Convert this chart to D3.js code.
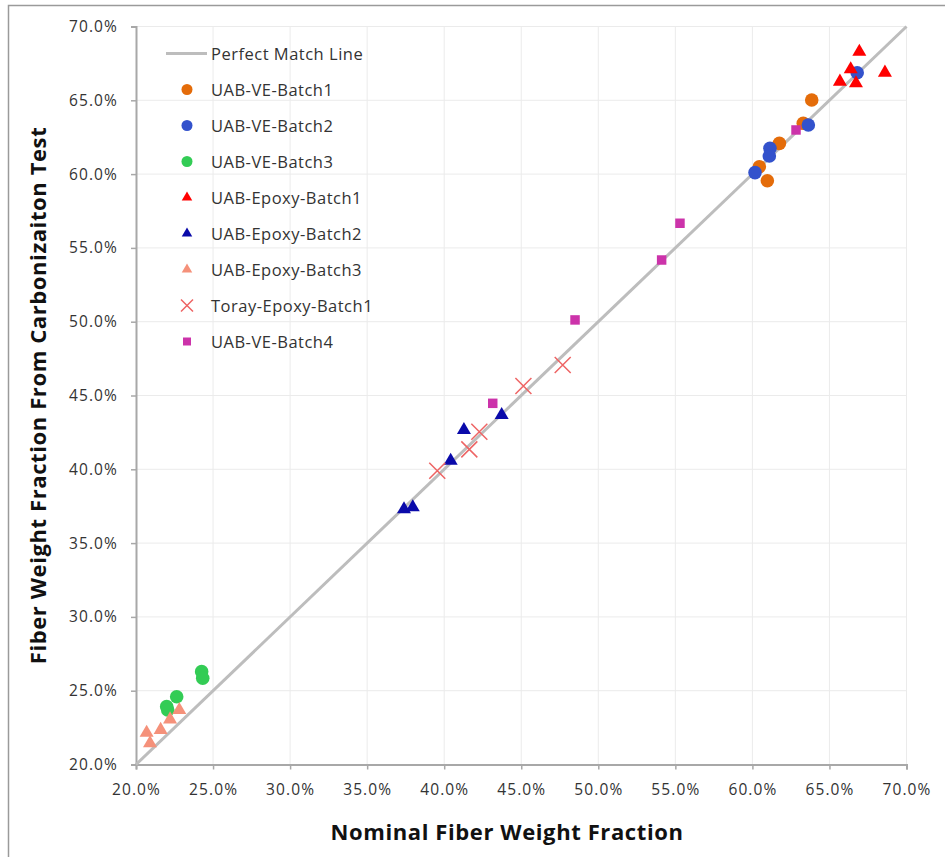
<!DOCTYPE html>
<html>
<head>
<meta charset="utf-8">
<script src="https://cdn.jsdelivr.net/npm/d3@7"></script>
<style>
  html, body { margin: 0; padding: 0; background: #fff; }
  svg { display: block; }
  text { font-family: "Open Sans", "Liberation Sans", sans-serif; }
</style>
</head>
<body>
<svg id="chart" width="945" height="857"></svg>
<script>
// ---- data (fractions) ----
const tickValues = [0.20, 0.25, 0.30, 0.35, 0.40, 0.45, 0.50, 0.55, 0.60, 0.65, 0.70];

const seriesNames = ["UAB-VE-Batch1", "UAB-VE-Batch2", "UAB-VE-Batch3", "UAB-Epoxy-Batch1",
  "UAB-Epoxy-Batch2", "UAB-Epoxy-Batch3", "Toray-Epoxy-Batch1", "UAB-VE-Batch4"];

const veBatch1X = [0.6385, 0.6330, 0.6175, 0.6045, 0.6097];
const veBatch1Y = [0.6502, 0.6344, 0.6208, 0.6050, 0.5955];

const veBatch2X = [0.6363, 0.6114, 0.6110, 0.6017, 0.6680];
const veBatch2Y = [0.6333, 0.6175, 0.6123, 0.6010, 0.6687];

const veBatch3X = [0.2426, 0.2433, 0.2264, 0.2199, 0.2206];
const veBatch3Y = [0.2629, 0.2584, 0.2459, 0.2392, 0.2369];

const epoxyBatch1X = [0.6694, 0.6638, 0.6568, 0.6672, 0.6860];
const epoxyBatch1Y = [0.6829, 0.6710, 0.6626, 0.6615, 0.6687];

const epoxyBatch2X = [0.4373, 0.4128, 0.4042, 0.3739, 0.3796];
const epoxyBatch2Y = [0.4368, 0.4266, 0.4058, 0.3729, 0.3743];

const epoxyBatch3X = [0.2281, 0.2221, 0.2160, 0.2069, 0.2091];
const epoxyBatch3Y = [0.2369, 0.2306, 0.2234, 0.2215, 0.2144];

const torayBatch1X = [0.4769, 0.4514, 0.4228, 0.4163, 0.3955];
const torayBatch1Y = [0.4707, 0.4564, 0.4255, 0.4135, 0.3990];

const veBatch4X = [0.6283, 0.5530, 0.5411, 0.4849, 0.4315];
const veBatch4Y = [0.6299, 0.5667, 0.5418, 0.5012, 0.4447];

const perfectLine = [0.20, 0.70];

// ---- styles ----
const styles = [
  { shape: "circle",   color: "#E46C0A" },
  { shape: "circle",   color: "#3352CC" },
  { shape: "circle",   color: "#33CC55" },
  { shape: "triangle", color: "#FF0000" },
  { shape: "triangle", color: "#0A0AAA" },
  { shape: "triangle", color: "#F5917A" },
  { shape: "cross",    color: "#EE6464" },
  { shape: "square",   color: "#CC33AA" }
];
const seriesX = [veBatch1X, veBatch2X, veBatch3X, epoxyBatch1X, epoxyBatch2X, epoxyBatch3X, torayBatch1X, veBatch4X];
const seriesY = [veBatch1Y, veBatch2Y, veBatch3Y, epoxyBatch1Y, epoxyBatch2Y, epoxyBatch3Y, torayBatch1Y, veBatch4Y];

const svg = d3.select("#chart");
const x = d3.scaleLinear().domain([0.20, 0.70]).range([136, 906.5]);
const y = d3.scaleLinear().domain([0.20, 0.70]).range([764.5, 26.5]);
const fmt = d3.format(".1%");

// outer border (extends off canvas right/bottom)
svg.append("rect").attr("x", 8.5).attr("y", 5.5).attr("width", 960).attr("height", 880)
  .attr("fill", "none").attr("stroke", "#9A9A9A").attr("stroke-width", 1.5);

// gridlines
const grid = svg.append("g");
grid.selectAll("line.v").data(tickValues.slice(1)).join("line")
  .attr("x1", d => x(d)).attr("x2", d => x(d)).attr("y1", y(0.70)).attr("y2", y(0.20))
  .attr("stroke", "#EBEBEB").attr("stroke-width", 1);
grid.selectAll("line.h").data(tickValues.slice(1)).join("line")
  .attr("x1", x(0.20)).attr("x2", x(0.70)).attr("y1", d => y(d)).attr("y2", d => y(d))
  .attr("stroke", "#EBEBEB").attr("stroke-width", 1);

// axes
const axisColor = "#A8A8A8";
const gx = svg.append("g").attr("transform", `translate(0,${y(0.20)})`)
  .call(d3.axisBottom(x).tickValues(tickValues).tickFormat(fmt).tickSize(5).tickPadding(14));
const gy = svg.append("g").attr("transform", `translate(${x(0.20)},0)`)
  .call(d3.axisLeft(y).tickValues(tickValues).tickFormat(fmt).tickSize(5).tickPadding(13));
[gx, gy].forEach(g => {
  g.select(".domain").attr("stroke", axisColor).attr("stroke-width", 2);
  g.selectAll(".tick line").attr("stroke", axisColor).attr("stroke-width", 1.5);
  g.selectAll(".tick text").attr("fill", "#333").style("font-size", "15.5px")
    .style("letter-spacing", "1.1px").style("font-family", "'Open Sans', sans-serif");
});

// axis titles
svg.append("text").attr("x", 507).attr("y", 840).attr("text-anchor", "middle")
  .style("font-size", "22px").style("font-weight", "bold").style("letter-spacing", "0.6px")
  .attr("fill", "#111")
  .text("Nominal Fiber Weight Fraction");
svg.append("text").attr("transform", `translate(46,${(y(0.2) + y(0.7)) / 2}) rotate(-90)`)
  .attr("text-anchor", "middle")
  .style("font-size", "22px").style("font-weight", "bold").style("letter-spacing", "0.6px")
  .attr("fill", "#111")
  .text("Fiber Weight Fraction From Carbonizaiton Test");

// perfect match line
svg.append("line")
  .attr("x1", x(perfectLine[0])).attr("y1", y(perfectLine[0]))
  .attr("x2", x(perfectLine[1])).attr("y2", y(perfectLine[1]))
  .attr("stroke", "#BDBDBD").attr("stroke-width", 3);

// marker drawing helper
function drawMarker(g, shape, color, big) {
  if (shape === "cross") {
    const h = big ? 8 : 6;
    g.append("path").attr("d", `M${-h},${-h}L${h},${h}M${-h},${h}L${h},${-h}`)
      .attr("stroke", color).attr("stroke-width", 1.5).attr("fill", "none");
    return;
  }
  let type, size;
  if (shape === "circle") { type = d3.symbolCircle; size = big ? 145 : 95; }
  if (shape === "triangle") { type = d3.symbolTriangle; size = big ? 85 : 48; }
  if (shape === "square") { type = d3.symbolSquare; size = big ? 90 : 64; }
  g.append("path").attr("d", d3.symbol().type(type).size(size)()).attr("fill", color);
}

// points
const pts = svg.append("g");
seriesX.forEach((xs, i) => {
  xs.forEach((xv, j) => {
    const g = pts.append("g").attr("transform", `translate(${x(xv)},${y(seriesY[i][j])})`);
    drawMarker(g, styles[i].shape, styles[i].color, true);
  });
});

// legend
const legend = svg.append("g");
const lx = 187, ly0 = 53.5, step = 36;
legend.append("line").attr("x1", lx - 21).attr("x2", lx + 20).attr("y1", ly0).attr("y2", ly0)
  .attr("stroke", "#BDBDBD").attr("stroke-width", 3);
legend.append("text").attr("x", 211).attr("y", ly0 + 6).style("font-size", "16.5px")
  .style("letter-spacing", "0.5px").attr("fill", "#333").text("Perfect Match Line");
seriesNames.forEach((name, i) => {
  const cy = ly0 + step * (i + 1);
  const g = legend.append("g").attr("transform", `translate(${lx},${cy})`);
  drawMarker(g, styles[i].shape, styles[i].color, false);
  legend.append("text").attr("x", 211).attr("y", cy + 6).style("font-size", "16.5px")
    .style("letter-spacing", "0.5px").attr("fill", "#333").text(name);
});
</script>
</body>
</html>
